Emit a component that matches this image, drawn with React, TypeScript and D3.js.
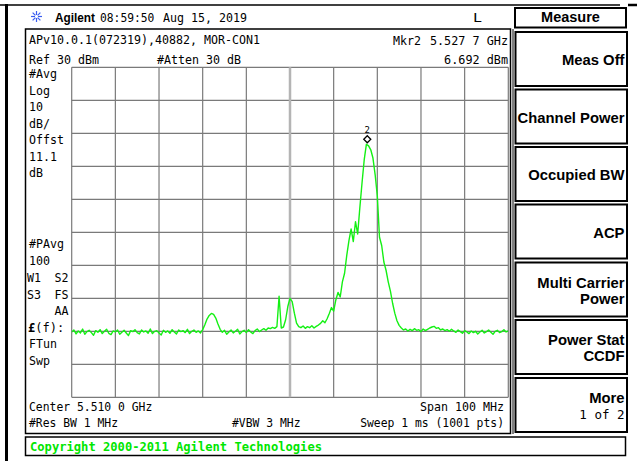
import React from "react";
import * as d3 from "d3";

// ---- Instrument settings / data ----
const FREQ_START_MHZ = 5460; // center 5510 MHz, span 100 MHz
const FREQ_STOP_MHZ = 5560;
const REF_LEVEL_DBM = 30;
const DB_PER_DIV = 10;
const X_DIVS = [0, 1, 2, 3, 4, 5, 6, 7, 8, 9, 10];
const Y_DIVS = [0, 1, 2, 3, 4, 5, 6, 7, 8, 9, 10];

// trace levels (dBm) sampled every 0.5 MHz from 5460 MHz
const LEVELS: number[] = [
  -50.2, -49.6, -50.8, -49.9, -50.5, -49.3, -50.9, -50.1, -49.7, -50.4,
  -51.2, -49.8, -50.3, -49.5, -50.7, -50.0, -49.4, -50.6, -51.0, -49.9,
  -50.2, -49.6, -50.9, -50.3, -49.7, -50.5, -51.3, -49.8, -50.1, -49.5,
  -50.4, -50.8, -49.6, -50.2, -49.9, -50.6, -49.3, -50.7, -50.0, -49.8,
  -50.5, -51.1, -49.7, -50.3, -49.9, -50.6, -49.5, -50.2, -50.8, -49.6,
  -50.1, -49.8, -50.4, -49.4, -50.7, -50.0, -49.6, -50.3, -49.9, -50.5,
  -49.5, -48.0, -46.3, -45.2, -44.6, -44.9, -46.0, -47.8, -49.4, -50.3,
  -49.7, -50.9, -50.2, -49.6, -50.5, -50.0, -49.4, -50.8, -50.1, -49.7,
  -50.4, -49.5, -50.2, -50.7, -49.8, -49.3, -50.1, -49.6, -49.2, -49.7,
  -49.0, -49.2, -48.8, -49.1, -48.6, -39.4, -49.0, -48.7, -46.5, -42.5,
  -40.0, -41.0, -44.5, -47.5, -48.6, -48.9, -48.4, -49.1, -48.6, -48.9,
  -48.3, -49.0, -48.5, -48.1, -47.6, -46.8, -47.4, -46.2, -44.6, -42.8,
  -43.9, -40.5, -38.2, -39.6, -35.0, -32.4, -27.0, -22.5, -19.0, -22.8,
  -16.8, -20.5, -12.5, -5.0, 2.0, 6.7, 6.2, 5.0, 2.5, -2.5,
  -9.0, -21.5, -24.0, -29.0, -31.5, -35.0, -37.8, -41.5, -44.5, -46.8,
  -48.2, -49.0, -49.6, -49.3, -49.9, -49.4, -49.8, -49.2, -49.7, -49.5,
  -50.1, -49.3, -49.8, -49.4, -49.0, -48.7, -48.5, -49.1, -48.9, -49.6,
  -49.3, -49.8, -49.5, -50.0, -49.4, -49.9, -50.3, -49.6, -50.1, -50.6,
  -49.8, -50.2, -50.7, -49.9, -50.4, -50.0, -50.8, -50.2, -49.7, -50.5,
  -50.1, -49.6, -50.3, -50.9, -50.0, -49.7, -50.4, -50.1, -49.5, -50.2,
  -49.9,
];

const MARKER_FREQ_MHZ = 5527.7;
const MARKER_LEVEL_DBM = 6.692;

const LEFT_TOP_LABELS = ["#Avg", "Log", "10", "dB/", "Offst", "11.1", "dB"];
const BUTTONS = [
  ["Meas Off"],
  ["Channel Power"],
  ["Occupied BW"],
  ["ACP"],
  ["Multi Carrier", "Power"],
  ["Power Stat", "CCDF"],
  ["More", "1 of 2"],
];

// ---- geometry ----
const GX0 = 71.7, GX1 = 508.3, GY0 = 67.3, GY1 = 397.3;
const MONO = "'DejaVu Sans Mono', monospace";
const SANSB = "'Liberation Sans', Arial, sans-serif";
const CW = 7.0;

function M(props: { x: number; y: number; s: string; end?: boolean; size?: number; weight?: string; fill?: string; cw?: number }) {
  const cw = props.cw ?? CW;
  const w = props.s.length * cw;
  const x = props.end ? props.x - w : props.x;
  return (
    <text x={x} y={props.y} fontFamily={MONO} fontSize={props.size ?? 12} fontWeight={props.weight ?? "normal"}
      fill={props.fill ?? "#000"} textLength={w} lengthAdjust="spacingAndGlyphs">
      {props.s}
    </text>
  );
}

export default function App() {
  const n = LEVELS.length;
  const step = (FREQ_STOP_MHZ - FREQ_START_MHZ) / (n - 1);
  const x = d3.scaleLinear().domain([FREQ_START_MHZ, FREQ_STOP_MHZ]).range([GX0, GX1]);
  const y = d3.scaleLinear().domain([REF_LEVEL_DBM - 10 * DB_PER_DIV, REF_LEVEL_DBM]).range([GY1, GY0]);
  const line = d3.line<number>().x((_, i) => x(FREQ_START_MHZ + i * step)).y((d) => y(d));
  const path = line(LEVELS) || "";
  const xDiv = (GX1 - GX0) / 10;
  const yDiv = (GY1 - GY0) / 10;
  const mx = x(MARKER_FREQ_MHZ);
  const my = y(MARKER_LEVEL_DBM) - 5;

  const btnTop = [32, 89.5, 147, 204.5, 262.5, 320, 378];
  const btnH = 54;

  return (
    <svg width={637} height={461} style={{ position: "absolute", left: 0, top: 0, background: "#fff" }}
      xmlns="http://www.w3.org/2000/svg">
      <rect x={0} y={0} width={637} height={461} fill="#fff" />
      {/* frame lines */}
      <line x1={0} y1={5} x2={620} y2={5} stroke="#000" strokeWidth={1.5} />
      <line x1={628} y1={5} x2={637} y2={5} stroke="#000" strokeWidth={2.5} />
      <line x1={6.5} y1={4} x2={6.5} y2={461} stroke="#000" strokeWidth={3} />

      {/* header */}
      <g transform="translate(36.5,16.5)" stroke="#3a5cf0" strokeWidth={1.2}>
        {d3.range(8).map((k) => {
          const a = (k * Math.PI) / 4;
          return <line key={k} x1={Math.cos(a) * 1.5} y1={Math.sin(a) * 1.5} x2={Math.cos(a) * 5.5} y2={Math.sin(a) * 5.5} />;
        })}
      </g>
      <text x={55} y={21.5} fontFamily={SANSB} fontWeight="bold" fontSize={12} textLength={40} lengthAdjust="spacingAndGlyphs">Agilent</text>
      <M x={100} y={21.5} s="08:59:50" cw={6.8} />
      <M x={163} y={21.5} s="Aug 15, 2019" />
      <M x={473} y={21.5} s="L" size={13} cw={9} />

      {/* Measure title */}
      <rect x={515} y={8} width={111} height={19.5} fill="none" stroke="#000" strokeWidth={2} />
      <text x={570.5} y={22} textAnchor="middle" fontFamily={SANSB} fontWeight="bold" fontSize={14.5}>Measure</text>

      {/* main display box */}
      <rect x={25.5} y={29} width={485} height={404.5} fill="none" stroke="#000" strokeWidth={1.5} />
      <line x1={513} y1={29} x2={513} y2={434} stroke="#000" strokeWidth={1} />

      <M x={29} y={44} s="APv10.0.1(072319),40882, MOR-CON1" />
      <M x={393} y={44.5} s="Mkr2" />
      <M x={508} y={44.5} s="5.527 7 GHz" end cw={7.1} />
      <M x={29} y={64} s="Ref 30 dBm" />
      <M x={157} y={64} s="#Atten 30 dB" />
      <M x={508} y={64} s="6.692 dBm" end cw={7.1} />

      {LEFT_TOP_LABELS.map((s, i) => (
        <M key={s + i} x={29} y={78 + i * 16.5} s={s} />
      ))}
      <M x={29} y={248} s="#PAvg" />
      <M x={29} y={265} s="100" />
      <M x={27} y={282} s="W1" />
      <M x={68.5} y={282} s="S2" end />
      <M x={27} y={298.5} s="S3" />
      <M x={68.5} y={298.5} s="FS" end />
      <M x={68.5} y={315} s="AA" end />
      <text x={28} y={331.5} fontFamily={MONO} fontSize={12}>
        <tspan fontWeight="bold">£</tspan>(f):
      </text>
      <M x={29} y={348} s="FTun" />
      <M x={29} y={364.5} s="Swp" />

      <M x={29} y={411} s="Center 5.510 0 GHz" cw={6.85} />
      <M x={504} y={411} s="Span 100 MHz" end />
      <M x={29} y={427} s="#Res BW 1 MHz" cw={6.85} />
      <M x={232} y={427} s="#VBW 3 MHz" cw={6.85} />
      <M x={504} y={427} s="Sweep 1 ms (1001 pts)" end cw={6.85} />

      {/* graticule */}
      {Y_DIVS.map((k) => (
        <line key={"h" + k} x1={GX0} x2={GX1} y1={GY0 + k * yDiv} y2={GY0 + k * yDiv} stroke="#7a7a7a" strokeWidth={1.2} />
      ))}
      {X_DIVS.map((k) =>
        k === 5 ? (
          <line key={"v" + k} x1={GX0 + k * xDiv} x2={GX0 + k * xDiv} y1={GY0} y2={GY1} stroke="#b4b4b4" strokeWidth={2.5} />
        ) : (
          <line key={"v" + k} x1={GX0 + k * xDiv} x2={GX0 + k * xDiv} y1={GY0} y2={GY1} stroke="#7a7a7a" strokeWidth={1.2} />
        )
      )}

      {/* trace */}
      <defs>
        <clipPath id="gclip">
          <rect x={GX0} y={GY0} width={GX1 - GX0} height={GY1 - GY0} />
        </clipPath>
      </defs>
      <path d={path} fill="none" stroke="#14f014" strokeWidth={1.4} strokeLinejoin="round" clipPath="url(#gclip)" />

      {/* marker */}
      <path d={`M${mx},${my - 3.5} L${mx + 3.5},${my} L${mx},${my + 3.5} L${mx - 3.5},${my} Z`} fill="#fff" stroke="#000" strokeWidth={1.3} />
      <text x={mx} y={my - 6} textAnchor="middle" fontFamily={MONO} fontSize={9}>2</text>

      {/* soft keys */}
      {BUTTONS.map((lines, i) => {
        const top = btnTop[i];
        const two = lines.length === 2;
        return (
          <g key={i}>
            <rect x={515.5} y={top} width={111.5} height={btnH} fill="none" stroke="#000" strokeWidth={2} />
            {lines.map((s, j) => {
              const base = two ? top + 25 + j * 16 : top + 33;
              const bold = !(i === 6 && j === 1);
              return (
                <text key={j} x={624.5} y={base} textAnchor="end"
                  fontFamily={bold ? SANSB : MONO}
                  fontWeight={bold ? "bold" : "normal"} fontSize={bold ? 14.8 : 12.5}>{s}</text>
              );
            })}
          </g>
        );
      })}

      {/* copyright bar */}
      <rect x={25.5} y={437} width={600} height={18.5} fill="none" stroke="#000" strokeWidth={1.5} />
      <M x={30} y={450.5} s="Copyright 2000-2011 Agilent Technologies" weight="bold" fill="#00e600" cw={7.3} size={12.5} />
    </svg>
  );
}
